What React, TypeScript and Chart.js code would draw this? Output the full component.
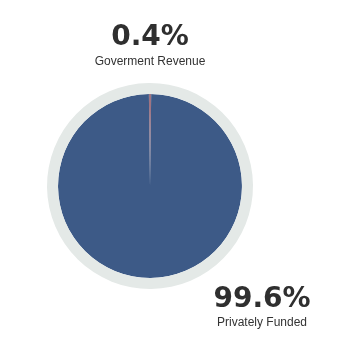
import React, { useEffect, useRef } from "react";
import { Chart, registerables } from "chart.js";

Chart.register(...registerables);

const categories = ["Goverment Revenue", "Privately Funded"];
const values = [0.4, 99.6];
const valueLabels = ["0.4%", "99.6%"];
const sliceColors = ["#a07482", "#3d5a87"];
const ringColor = "#e4e9e7";

const labelPlugin = {
  id: "bigLabels",
  afterDraw(chart: any) {
    const ctx = chart.ctx;
    const spots = [
      { x: 150, yNum: 45, yCat: 65 },
      { x: 262, yNum: 307, yCat: 326 },
    ];
    ctx.save();
    ctx.fillStyle = "#2f2f2f";
    ctx.textAlign = "center";
    ctx.textBaseline = "alphabetic";
    categories.forEach((cat, i) => {
      const s = spots[i];
      ctx.font = "bold 28px 'DejaVu Sans'";
      ctx.fillText(valueLabels[i], s.x, s.yNum);
      ctx.fillStyle = "#333333";
      ctx.font = "12px 'Liberation Sans', Arial, sans-serif";
      ctx.fillText(cat, s.x, s.yCat);
      ctx.fillStyle = "#2f2f2f";
    });
    ctx.restore();
  },
};

export default function App() {
  const ref = useRef<HTMLCanvasElement>(null);
  useEffect(() => {
    if (!ref.current) return;
    const chart = new Chart(ref.current, {
      type: "doughnut",
      data: {
        labels: categories,
        datasets: [
          {
            data: [1],
            backgroundColor: [ringColor],
            borderWidth: 0,
            weight: 11,
          } as any,
          {
            data: values,
            backgroundColor: sliceColors,
            borderWidth: 0,
            weight: 92,
          } as any,
        ],
      },
      options: {
        animation: false,
        responsive: true,
        maintainAspectRatio: false,
        cutout: 0,
        rotation: -0.7,
        layout: { padding: { left: 47, right: 107, top: 83, bottom: 71 } },
        plugins: {
          legend: { display: false },
          tooltip: { enabled: false },
        },
      },
      plugins: [labelPlugin],
    });
    return () => chart.destroy();
  }, []);
  return (
    <div style={{ position: "absolute", left: 0, top: 0, width: 360, height: 360, background: "#fff" }}>
      <canvas ref={ref} />
    </div>
  );
}
